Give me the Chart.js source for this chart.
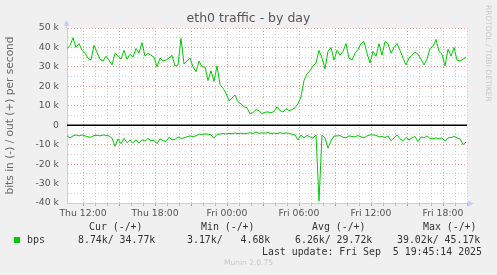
<!DOCTYPE html>
<html>
<head>
<meta charset="utf-8">
<title>eth0 traffic - by day</title>
<script src="https://cdn.jsdelivr.net/npm/chart.js@4/dist/chart.umd.min.js"></script>
<style>
  html, body { margin: 0; padding: 0; background: #f0f0f0; }
  #wrap { position: relative; width: 497px; height: 275px; overflow: hidden; font-family: "DejaVu Sans", sans-serif; }
  #wrap canvas { position: absolute; left: 0; top: 0; }
  .t { position: absolute; white-space: pre; font-weight: normal; }
  .title { left: 0; width: 497px; top: 10px; text-align: center; font-size: 12.5px; line-height: 15px; color: #555; }
  .rrd { left: 484px; top: 5px; font-size: 7.5px; color: #c8c8c8; writing-mode: vertical-rl; }
  .mono { font-family: "DejaVu Sans Mono", monospace; font-size: 9.9px; line-height: 12px; color: #333; }
  .foot { left: 0; width: 497px; top: 258px; text-align: center; font-size: 7.5px; line-height: 10px; color: #c8c8c8; }
  .sw { position: absolute; left: 14px; top: 237px; width: 6px; height: 6px; background: #00cc00; }
</style>
</head>
<body>
<div id="wrap">
  <canvas id="chart" width="497" height="275"></canvas>
  <div class="t title">eth0 traffic - by day</div>
  <div class="t rrd">RRDTOOL / TOBI OETIKER</div>

  <div class="t mono" style="left:89px;top:221px">Cur (-/+)</div>
  <div class="t mono" style="left:201px;top:221px">Min (-/+)</div>
  <div class="t mono" style="left:312px;top:221px">Avg (-/+)</div>
  <div class="t mono" style="left:423px;top:221px">Max (-/+)</div>

  <div class="sw"></div>
  <div class="t mono" style="left:27px;top:234px">bps</div>
  <div class="t mono" style="left:78px;top:234px">8.74k/ 34.77k</div>
  <div class="t mono" style="left:187px;top:234px">3.17k/   4.68k</div>
  <div class="t mono" style="left:295px;top:234px">6.26k/ 29.72k</div>
  <div class="t mono" style="left:397px;top:234px">39.02k/ 45.17k</div>

  <div class="t mono" style="left:262px;top:246px">Last update: Fri Sep  5 19:45:14 2025</div>
  <div class="t foot">Munin 2.0.75</div>
</div>

<script>
/* eth0 traffic - by day (munin style) */

// time axis: hours since Thu 00:00, one sample every 15 min
var T_START = 10 + 40 / 60;   // Thu 10:40
var T_END = 44;               // Fri 20:00
var T_STEP = 0.25;

var X_TICK_HOURS = [12, 18, 24, 30, 36, 42];
var X_TICK_LABELS = ['Thu 12:00', 'Thu 18:00', 'Fri 00:00', 'Fri 06:00', 'Fri 12:00', 'Fri 18:00'];

var Y_TICKS = [50, 40, 30, 20, 10, 0, -10, -20, -30, -40];
var Y_LABELS = ['50 k', '40 k', '30 k', '20 k', '10 k', '0', '-10 k', '-20 k', '-30 k', '-40 k'];

// out (+), kbit/s
var OUT_K = [
  39.5, 41, 45, 40, 42, 38.5, 37, 34.5, 33.5, 41,
  37.5, 34, 33, 35.5, 33.5, 31, 37, 35.5, 34, 38.5,
  34, 36.5, 35, 39.5, 37, 42.5, 35.5, 37, 36, 35,
  30, 34.5, 33, 33.5, 34.5, 36, 30.5, 31, 44.7, 31.5,
  33, 34.5, 30, 27.5, 33, 30, 30, 23, 28, 22.5,
  30.5, 21, 19, 16.5, 12.5, 14, 15.5, 12, 11, 9.5,
  9, 5.8, 6.5, 8, 7.5, 5.8, 6.7, 6.8, 6.5, 7,
  9.5, 7.5, 6.8, 8.5, 7.5, 8, 9, 11, 14.5, 23,
  26.5, 28, 30.5, 32, 38.5, 34.5, 29, 38, 40, 33.5,
  38.5, 36, 38, 42, 34.5, 33.5, 37, 39, 42, 43,
  37, 32, 38, 35.5, 42, 36, 43, 42, 37, 40,
  42, 38.5, 34.5, 31, 34.5, 36, 37.5, 36.5, 34, 31,
  34, 39.5, 40.5, 44, 38, 36.5, 30.5, 39, 35.5, 40,
  33.5, 33, 34, 34.8
];

// in (-), kbit/s, drawn below zero
var IN_K = [
  -5.5, -6.5, -5.5, -5, -5.5, -5, -5.5, -6, -6.2, -5.3,
  -5.2, -5.5, -5, -5.2, -5.5, -6.7, -10.8, -7, -9.5, -6.7,
  -9, -7.5, -9, -7.5, -9.2, -7.5, -8.2, -6.7, -8, -7.7,
  -9.5, -7, -8, -8.3, -6.2, -7.5, -7.3, -6, -6.8, -6.5,
  -6, -5.5, -5.8, -5.5, -4.5, -4.7, -4.5, -4.6, -5, -6.7,
  -4.7, -4.5, -4.3, -4.5, -4.2, -4.4, -4, -4.3, -4.1, -4.4,
  -4.2, -3.8, -4.3, -3.5, -4.2, -3.9, -4.1, -3.7, -4.4, -4,
  -4.3, -3.9, -4.2, -4, -4.1, -4.6, -5, -7.5, -5, -6.5,
  -5.2, -6, -6.7, -5, -39, -5, -6.5, -11.8, -8, -5.5,
  -5.5, -5.3, -6.2, -6.5, -5.5, -5.8, -6, -5.3, -6, -6.5,
  -5.5, -5, -5, -5.2, -6, -5.8, -6.3, -5.5, -8, -6.5,
  -5, -7, -8, -6.3, -7.5, -6.5, -5.8, -8.5, -6, -6.5,
  -5.5, -6.8, -7, -6.5, -7, -6.5, -8.2, -6.5, -6.3, -5.8,
  -6.5, -7, -10, -8.7
];

var GREEN = '#00cc00';
var MGRID = '#eba3a3';
var GRID = '#d2d2d2';
var AXIS = '#c6ccf2';

function points(arr) {
  return arr.map(function (v, i) { return { x: T_START + i * T_STEP, y: v }; });
}

var plotDeco = {
  id: 'plotDeco',
  beforeDraw: function (c) {
    var a = c.chartArea, ctx = c.ctx;
    ctx.save();
    ctx.fillStyle = '#fff';
    ctx.fillRect(a.left, a.top, a.right - a.left, a.bottom - a.top);
    ctx.restore();
  },
  afterDraw: function (c) {
    var a = c.chartArea, ctx = c.ctx;
    ctx.save();
    ctx.strokeStyle = AXIS; ctx.fillStyle = AXIS; ctx.lineWidth = 1;
    ctx.beginPath();
    ctx.moveTo(a.left - 0.5, a.top); ctx.lineTo(a.left - 0.5, a.top - 3);
    ctx.moveTo(a.right, a.bottom + 0.5); ctx.lineTo(a.right + 3, a.bottom + 0.5);
    ctx.stroke();
    ctx.beginPath();
    ctx.moveTo(a.left - 0.5, a.top - 8); ctx.lineTo(a.left - 3.5, a.top - 2); ctx.lineTo(a.left + 2.5, a.top - 2);
    ctx.closePath(); ctx.fill();
    ctx.beginPath();
    ctx.moveTo(a.right + 7, a.bottom + 0.5); ctx.lineTo(a.right + 1, a.bottom - 2.5); ctx.lineTo(a.right + 1, a.bottom + 3.5);
    ctx.closePath(); ctx.fill();
    ctx.restore();
  }
};

Chart.defaults.font.family = '"DejaVu Sans", sans-serif';
Chart.defaults.font.size = 9.3;
Chart.defaults.color = '#555';

new Chart(document.getElementById('chart').getContext('2d'), {
  type: 'line',
  data: {
    datasets: [
      { data: [{ x: T_START, y: 0 }, { x: T_END, y: 0 }], borderColor: '#000', borderWidth: 1.5, pointRadius: 0 },
      { label: 'bps', data: points(OUT_K), borderColor: GREEN, borderWidth: 1, pointRadius: 0, tension: 0 },
      { label: 'bps', data: points(IN_K), borderColor: GREEN, borderWidth: 1, pointRadius: 0, tension: 0 }
    ]
  },
  options: {
    responsive: false, animation: false,
    layout: { padding: { left: 0, right: 30, top: 28, bottom: 50 } },
    plugins: { legend: { display: false }, tooltip: { enabled: false } },
    scales: {
      x: {
        type: 'linear', min: T_START, max: T_END,
        afterFit: function (s) { s.height = 22; },
        ticks: {
          stepSize: 1, autoSkip: false, maxRotation: 0, padding: 2,
          callback: function (v) {
            var i = X_TICK_HOURS.indexOf(v);
            return i < 0 ? '' : X_TICK_LABELS[i];
          }
        },
        grid: {
          tickLength: 3,
          color: function (ctx) {
            var v = ctx.tick && ctx.tick.value;
            if (!Number.isInteger(v)) return 'rgba(0,0,0,0)';
            return v % 3 === 0 ? MGRID : GRID;
          },
          tickColor: function (ctx) {
            var v = ctx.tick && ctx.tick.value;
            if (!Number.isInteger(v)) return 'rgba(0,0,0,0)';
            return v % 3 === 0 ? '#f08080' : '#bbb';
          }
        },
        border: { color: AXIS, dash: [1, 2] }
      },
      y: {
        min: -40, max: 50,
        afterFit: function (s) { s.width = 67; },
        title: {
          display: true, text: 'bits in (-) / out (+) per second',
          color: '#666', font: { size: 10.6 }, padding: { top: 4, bottom: 0 }
        },
        ticks: {
          stepSize: 5, autoSkip: false, padding: 8,
          callback: function (v) {
            var i = Y_TICKS.indexOf(v);
            return i < 0 ? '' : Y_LABELS[i];
          }
        },
        grid: {
          drawTicks: false,
          color: function (ctx) {
            var v = ctx.tick && ctx.tick.value;
            return v % 10 === 0 ? MGRID : GRID;
          }
        },
        border: { color: AXIS, dash: [1, 2] }
      }
    }
  },
  plugins: [plotDeco]
});
</script>
</body>
</html>
